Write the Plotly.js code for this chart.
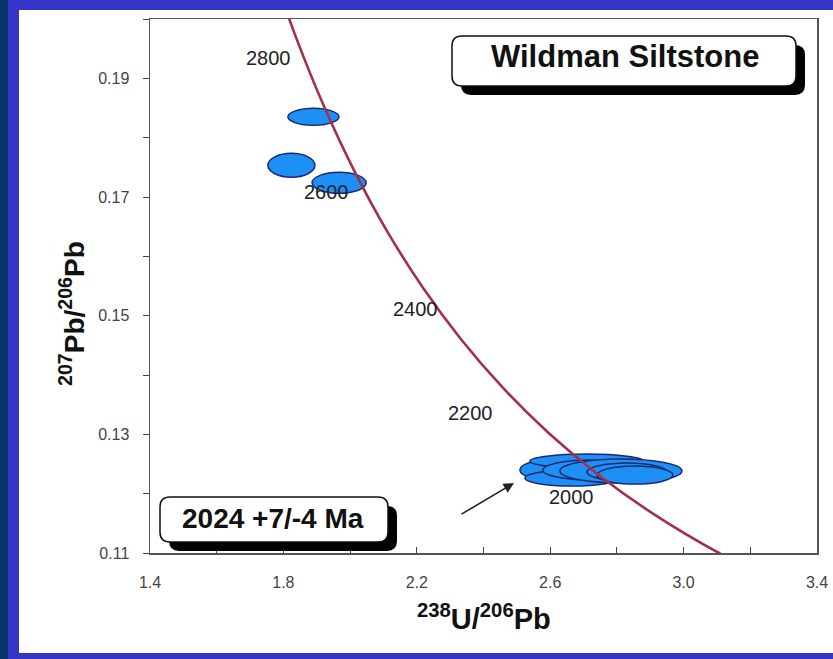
<!DOCTYPE html>
<html><head><meta charset="utf-8">
<script src="https://cdn.plot.ly/plotly-3.0.1.min.js"></script>
<style>html,body{margin:0;padding:0;background:#3434c8;}#chart{width:833px;height:659px;}</style>
</head><body><div id="chart"></div>
<script>
// Concordia (Tera-Wasserburg) reference points: age (Ma), 238U/206Pb, 207Pb/206Pb
const concordiaAge = [1700, 1800, 1900, 2000, 2100, 2200, 2300, 2400, 2500, 2600, 2700, 2800, 2900];
const concordiaX = [3.3140, 3.1046, 2.9174, 2.7490, 2.5968, 2.4586, 2.3325, 2.2170, 2.1108, 2.0129, 1.9224, 1.8384, 1.7603];
const concordiaY = [0.10419, 0.11004, 0.11629, 0.12299, 0.13015, 0.13782, 0.14603, 0.15483, 0.16426, 0.17437, 0.18520, 0.19682, 0.20928];

// Age labels along the concordia
const ageLabelText = ['2800', '2600', '2400', '2200', '2000'];
const ageLabelX = [1.754, 1.929, 2.195, 2.360, 2.665];
const ageLabelY = [0.1934, 0.1708, 0.1511, 0.1336, 0.1194];

// Zircon analyses: centre and error half-axes
const spotX = [1.890, 1.824, 1.967, 2.644, 2.665, 2.710, 2.719, 2.812, 2.830, 2.854];
const spotY = [0.18351, 0.17534, 0.17239, 0.12398, 0.12263, 0.12549, 0.12398, 0.12381, 0.12364, 0.12314];
const spotErrX = [0.0765, 0.0705, 0.081, 0.135, 0.141, 0.171, 0.141, 0.183, 0.120, 0.114];
const spotErrY = [0.00143, 0.00202, 0.00177, 0.00202, 0.00135, 0.00118, 0.00168, 0.00202, 0.00152, 0.00152];

// Text labels
const sampleName = 'Wildman Siltstone';
const ageResult = '2024 +7/-4 Ma';
const xTitle = '<b><sup>238</sup>U/<sup>206</sup>Pb</b>';
const yTitle = '<b><sup>207</sup>Pb/<sup>206</sup>Pb</b>';

const W = 833, H = 659, M = {l: 150, r: 16, t: 19, b: 106};
const pw = W - M.l - M.r, ph = H - M.t - M.b;
const px = x => (x - M.l) / pw;
const py = y => (H - M.b - y) / ph;
function rrect(x0, y0, x1, y1, r) {
  const p = (x, y) => px(x).toFixed(5) + ',' + py(y).toFixed(5);
  return `M${p(x0 + r, y0)} L${p(x1 - r, y0)} Q${p(x1, y0)} ${p(x1, y0 + r)} L${p(x1, y1 - r)} Q${p(x1, y1)} ${p(x1 - r, y1)} L${p(x0 + r, y1)} Q${p(x0, y1)} ${p(x0, y1 - r)} L${p(x0, y0 + r)} Q${p(x0, y0)} ${p(x0 + r, y0)} Z`;
}

const FONT = 'Liberation Sans, Arial, sans-serif';
const shapes = [];
// white panel and dark left strip
shapes.push({type: 'rect', xref: 'paper', yref: 'paper', x0: px(19), x1: px(840), y0: py(653), y1: py(10),
  fillcolor: '#ffffff', line: {width: 0}, layer: 'below'});
shapes.push({type: 'rect', xref: 'paper', yref: 'paper', x0: px(-5), x1: px(8), y0: py(670), y1: py(-10),
  fillcolor: '#06336a', line: {width: 0}, layer: 'below'});
// error ellipses
for (let i = 0; i < spotX.length; i++) {
  shapes.push({type: 'circle', xref: 'x', yref: 'y', layer: 'below',
    x0: spotX[i] - spotErrX[i], x1: spotX[i] + spotErrX[i],
    y0: spotY[i] - spotErrY[i], y1: spotY[i] + spotErrY[i],
    fillcolor: '#1e90f5', line: {color: '#1a2a70', width: 1.5}});
}
// label boxes with drop shadows
function boxWithShadow(x0, y0, x1, y1) {
  shapes.push({type: 'path', xref: 'paper', yref: 'paper', layer: 'above', path: rrect(x0 + 9, y0 + 9, x1 + 9, y1 + 9, 10),
    fillcolor: '#000000', line: {width: 0}});
  shapes.push({type: 'path', xref: 'paper', yref: 'paper', layer: 'above', path: rrect(x0, y0, x1, y1, 10),
    fillcolor: '#ffffff', line: {color: '#111111', width: 1.5}});
}
boxWithShadow(452, 36, 796, 86);
boxWithShadow(160, 497, 388, 542);

const annotations = [];
for (let i = 0; i < ageLabelText.length; i++) {
  annotations.push({x: ageLabelX[i], y: ageLabelY[i], xref: 'x', yref: 'y', text: ageLabelText[i], showarrow: false,
    xanchor: 'center', yanchor: 'middle', font: {family: FONT, size: 20, color: '#222222'}});
}
annotations.push({xref: 'paper', yref: 'paper', x: px(625), y: py(57), xanchor: 'center', yanchor: 'middle',
  text: '<b>' + sampleName + '</b>', showarrow: false, font: {family: FONT, size: 31, color: '#111111'}});
annotations.push({xref: 'paper', yref: 'paper', x: px(273), y: py(518), xanchor: 'center', yanchor: 'middle',
  text: '<b>' + ageResult + '</b>', showarrow: false, font: {family: FONT, size: 28, color: '#111111'}});
annotations.push({xref: 'x', yref: 'y', axref: 'x', ayref: 'y', x: 2.4915, y: 0.1218, ax: 2.3296, ay: 0.1164, text: '',
  showarrow: true, arrowhead: 2, arrowsize: 1.3, arrowwidth: 1.6, arrowcolor: '#222222'});
annotations.push({xref: 'paper', yref: 'paper', x: 0.5, y: py(617), xanchor: 'center', yanchor: 'middle',
  text: xTitle, showarrow: false, font: {family: FONT, size: 29, color: '#111111'}});
annotations.push({xref: 'paper', yref: 'paper', x: px(72), y: py(314), xanchor: 'center', yanchor: 'middle',
  text: yTitle, showarrow: false, textangle: -90, font: {family: FONT, size: 28, color: '#111111'}});

const traces = [{
  x: concordiaX, y: concordiaY, text: concordiaAge, type: 'scatter', mode: 'lines',
  line: {color: '#a3304a', width: 2.6, shape: 'spline'}, hoverinfo: 'text', showlegend: false
}];

const axisCommon = {showgrid: false, zeroline: false, showline: true, linecolor: '#555555', linewidth: 1.5, mirror: true,
  tickcolor: '#444444', tickfont: {family: FONT, size: 16, color: '#444444'}, fixedrange: true};

const layout = {
  width: W, height: H, margin: M,
  paper_bgcolor: '#3434c8', plot_bgcolor: '#ffffff',
  xaxis: Object.assign({}, axisCommon, {range: [1.4, 3.4], tick0: 1.4, dtick: 0.4, tickformat: '.1f',
    ticks: 'inside', ticklen: 6, ticklabelstandoff: 14,
    minor: {dtick: 0.2, ticks: 'inside', ticklen: 6, tickcolor: '#444444'}}),
  yaxis: Object.assign({}, axisCommon, {range: [0.11, 0.20], tick0: 0.11, dtick: 0.02, tickformat: '.2f',
    ticks: 'outside', ticklen: 6, ticklabelstandoff: 10,
    minor: {dtick: 0.01, ticks: 'outside', ticklen: 6, tickcolor: '#444444'}}),
  shapes: shapes, annotations: annotations, showlegend: false
};

Plotly.newPlot('chart', traces, layout, {displayModeBar: false, staticPlot: true});
</script>
</body></html>
